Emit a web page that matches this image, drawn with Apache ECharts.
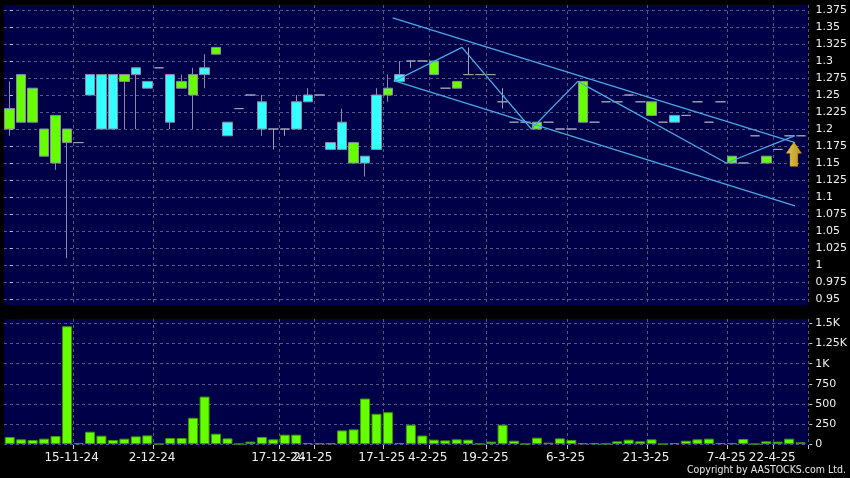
<!DOCTYPE html>
<html><head><meta charset="utf-8">
<script src="https://cdn.jsdelivr.net/npm/echarts@6/dist/echarts.min.js"></script>
<style>html,body{margin:0;padding:0;background:#000;}#c{width:850px;height:478px;}</style>
</head><body><div id="c"></div>
<script>
// each bar: [open, close, low, high]
const ohlc = [
  [1.23,1.20,1.19,1.27],[1.28,1.21,1.21,1.28],[1.26,1.21,1.21,1.26],[1.20,1.16,1.16,1.20],
  [1.22,1.15,1.14,1.22],[1.20,1.18,1.01,1.20],[1.18,1.18,1.18,1.18],[1.25,1.28,1.25,1.28],
  [1.20,1.28,1.20,1.28],[1.20,1.28,1.20,1.28],[1.28,1.27,1.20,1.28],[1.28,1.29,1.20,1.29],
  [1.26,1.27,1.26,1.27],[1.29,1.29,1.29,1.29],[1.21,1.28,1.20,1.28],[1.27,1.26,1.26,1.28],
  [1.28,1.25,1.20,1.29],[1.28,1.29,1.26,1.31],[1.32,1.31,1.31,1.32],[1.19,1.21,1.19,1.21],
  [1.23,1.23,1.23,1.23],[1.25,1.25,1.25,1.25],[1.20,1.24,1.19,1.25],[1.20,1.20,1.17,1.20],
  [1.20,1.20,1.19,1.20],[1.20,1.24,1.20,1.25],[1.24,1.25,1.24,1.26],[1.25,1.25,1.25,1.25],
  [1.17,1.18,1.17,1.18],[1.17,1.21,1.17,1.23],[1.18,1.15,1.15,1.18],[1.15,1.16,1.13,1.16],
  [1.17,1.25,1.17,1.26],[1.26,1.25,1.24,1.28],[1.27,1.28,1.27,1.30],[1.30,1.30,1.29,1.30],
  [1.30,1.30,1.30,1.30],[1.30,1.28,1.28,1.30],[1.26,1.26,1.26,1.26],[1.27,1.26,1.26,1.27],
  [1.28,1.28,1.28,1.32],[1.28,1.28,1.28,1.28],[1.28,1.28,1.28,1.28],[1.24,1.24,1.23,1.26],
  [1.21,1.21,1.21,1.21],[1.21,1.21,1.21,1.21],[1.21,1.20,1.20,1.21],[1.21,1.21,1.21,1.21],
  [1.20,1.20,1.20,1.20],[1.20,1.20,1.20,1.20],[1.27,1.21,1.21,1.27],[1.21,1.21,1.21,1.21],
  [1.24,1.24,1.24,1.24],[1.24,1.24,1.24,1.24],[1.25,1.25,1.25,1.25],[1.24,1.24,1.24,1.24],
  [1.24,1.22,1.22,1.24],[1.21,1.21,1.21,1.21],[1.21,1.22,1.21,1.22],[1.22,1.22,1.22,1.22],
  [1.24,1.24,1.24,1.24],[1.21,1.21,1.21,1.21],[1.24,1.24,1.24,1.24],[1.16,1.15,1.15,1.16],
  [1.15,1.15,1.15,1.15],[1.19,1.19,1.19,1.19],[1.16,1.15,1.15,1.16],[1.17,1.17,1.17,1.17],
  [1.19,1.19,1.19,1.19],[1.19,1.19,1.19,1.19]
];
const volume = [
  87,58,50,66,99,1466,10,153,103,50,
  66,95,107,0,74,74,326,590,128,70,
  0,29,87,58,116,116,12,8,8,169,
  182,566,376,396,12,240,105,54,45,58,
  54,2,29,240,41,0,78,17,70,50,
  8,8,3,33,54,33,58,0,12,41,
  58,66,12,10,62,0,33,29,66,21
];
const tickLabels = ['15-11-24','2-12-24','17-12-24','2-1-25','17-1-25','4-2-25','19-2-25','6-3-25','21-3-25','7-4-25','22-4-25'];
const tickBars = [6,13,24,27,33,37,42,49,56,63,67];
const priceAxis = {min:0.95, max:1.375, step:0.025};
const volumeAxis = {min:0, max:1500, step:250};
// trend lines: [bar position, price]
const upperChannel = [[33.4,1.3635],[68.5,1.180]];
const lowerChannel = [[33.5,1.271],[68.5,1.087]];
const zigzag = [[33.5,1.27],[39.45,1.32],[45.5,1.20],[49.55,1.27],[62.5,1.15],[68.45,1.19]];
const signalArrow = [[68.4,1.163]];
const categories = ohlc.map((d,i)=>'D'+(i+1));
const labelOf = {}; tickBars.forEach((b,k)=>labelOf[b]=tickLabels[k]);

const FONT = 'DejaVu Sans';
const GRIDC = '#55558a';
const L = 4, W = 804;
const chart = echarts.init(document.getElementById('c'), null, {renderer:'canvas'});
const vgrid = {show:true, interval:(i)=>tickBars.indexOf(i)>=0, lineStyle:{color:GRIDC,type:[3,3],width:1}};
const hgrid = {show:true, lineStyle:{color:GRIDC,type:[3,3],width:1}};
const catAxis = (g, extra) => Object.assign({type:'category', gridIndex:g, data:categories, boundaryGap:true,
  axisLine:{show:false}, axisTick:{show:false}, axisLabel:{show:false}, splitLine:{show:false}}, extra||{});
chart.setOption({
  backgroundColor:'#000000',
  animation:false,
  grid:[
    {left:L, width:W, top:5, height:300, show:true, backgroundColor:'#000048', borderWidth:0},
    {left:L, width:W, top:10, height:289, show:false},
    {left:L, width:W, top:319, height:126, show:true, backgroundColor:'#000048', borderWidth:0},
    {left:L, width:W, top:323.5, height:120.5, show:false}
  ],
  xAxis:[
    catAxis(0, {splitLine:vgrid}),
    catAxis(1),
    catAxis(2, {splitLine:vgrid,
      axisTick:{show:true, interval:(i)=>tickBars.indexOf(i)>=0, length:4, lineStyle:{color:'#c8c8c8'}},
      axisLabel:{show:true, interval:(i)=>tickBars.indexOf(i)>=0, formatter:(v,i)=>labelOf[i]||'',
        color:'#f0f0f0', fontFamily:FONT, fontSize:12, margin:7, padding:[0,14,0,0]}}),
    catAxis(3),
    {type:'value', gridIndex:1, min:-0.5, max:69.5, show:false}
  ],
  yAxis:[
    {type:'value', gridIndex:0, show:false, min:0, max:1},
    {type:'value', gridIndex:1, position:'right', min:priceAxis.min, max:priceAxis.max, interval:priceAxis.step,
      offset:3, axisLine:{show:false}, axisTick:{show:true, length:3, lineStyle:{color:'#c8c8c8'}},
      axisLabel:{color:'#f0f0f0', fontFamily:FONT, fontSize:11, margin:6, formatter:(v)=>String(Number(v.toFixed(3)))},
      splitLine:hgrid},
    {type:'value', gridIndex:2, show:false, min:0, max:1},
    {type:'value', gridIndex:3, position:'right', min:volumeAxis.min, max:volumeAxis.max, interval:volumeAxis.step,
      offset:3, axisLine:{show:false}, axisTick:{show:true, length:3, lineStyle:{color:'#c8c8c8'}},
      axisLabel:{color:'#f0f0f0', fontFamily:FONT, fontSize:11, margin:6, formatter:(v)=>v>=1000?(v/1000)+'K':String(v)},
      splitLine:hgrid}
  ],
  series:[
    {type:'candlestick', xAxisIndex:1, yAxisIndex:1, data:ohlc, barWidth:10,
      itemStyle:{color:'#33ffff', color0:'#66ff00', borderColor:'#8a8aa8', borderColor0:'#8a8aa8', borderColorDoji:'#a0a0b4', borderWidth:1}},
    {type:'line', xAxisIndex:4, yAxisIndex:1, data:upperChannel, symbol:'none', lineStyle:{color:'#4aa8e6', width:1.3}, z:5},
    {type:'line', xAxisIndex:4, yAxisIndex:1, data:lowerChannel, symbol:'none', lineStyle:{color:'#4aa8e6', width:1.3}, z:5},
    {type:'line', xAxisIndex:4, yAxisIndex:1, data:zigzag, symbol:'none', lineStyle:{color:'#4aa8e6', width:1.3}, z:5},
    {type:'scatter', xAxisIndex:4, yAxisIndex:1, data:signalArrow, z:6,
      symbol:'path://M7.5,0 L15,11 L11.3,11 L11.3,24 L3.7,24 L3.7,11 L0,11 Z', symbolSize:[15,24],
      itemStyle:{color:new echarts.graphic.LinearGradient(0,0,1,0,[{offset:0,color:'#fff6a8'},{offset:0.4,color:'#ffe033'},{offset:1,color:'#f7b500'}]),
        borderColor:'#f2a900', borderWidth:0.6}},
    {type:'bar', xAxisIndex:3, yAxisIndex:3, data:volume, barWidth:10,
      itemStyle:{color:'#66ff00', borderColor:'#3a9a00', borderWidth:1}}
  ],
  graphic:[
    {type:'text', right:4, top:465, style:{text:'Copyright by AASTOCKS.com Ltd.', fill:'#e8e8e8', font:'10.5px "DejaVu Sans Condensed", "DejaVu Sans"'}}
  ]
});
</script></body></html>
